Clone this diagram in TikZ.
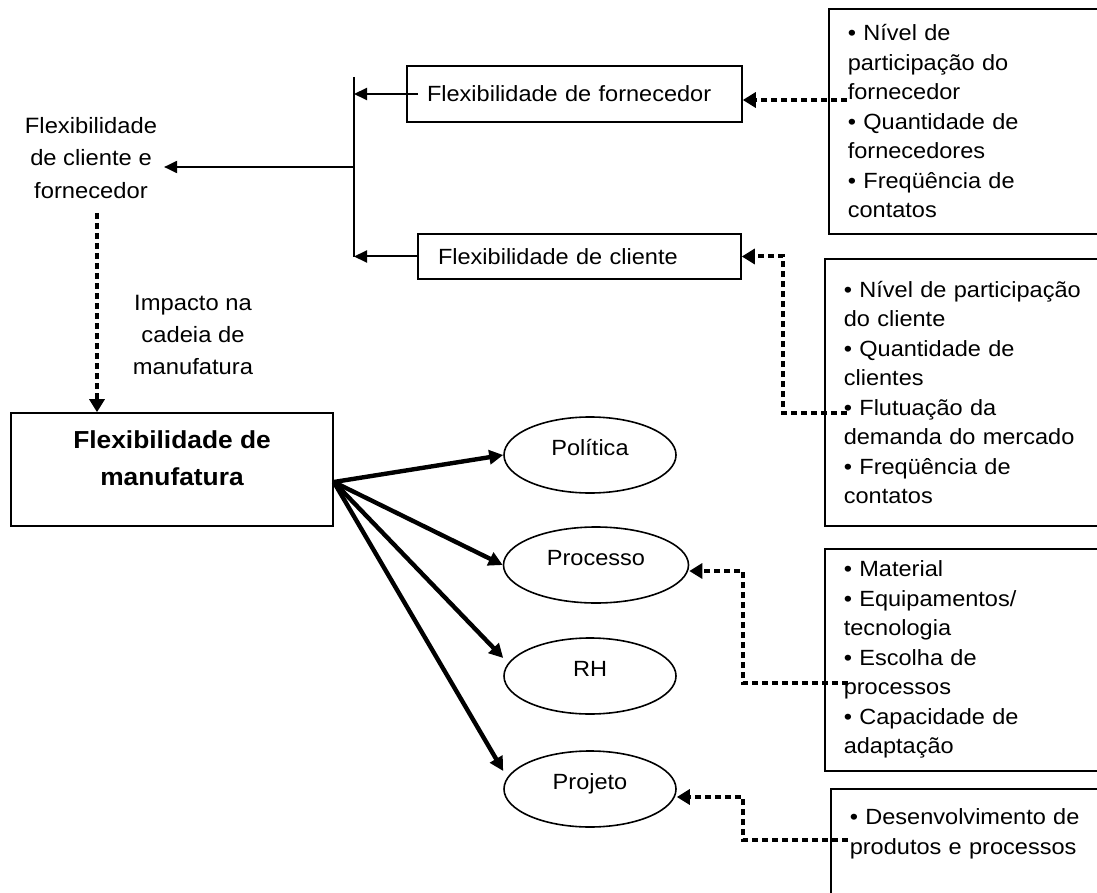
\documentclass[tikz,border=0pt]{standalone}
\usepackage{fontspec}
\setmainfont[FakeStretch=1.07]{Liberation Sans}
\usetikzlibrary{arrows.meta,shapes.geometric}

\begin{document}
\begin{tikzpicture}[
    >={Triangle[length=6.5pt,width=6pt]},
    x=0.5pt,
    y=-0.5pt,
    every node/.style={font=\fontsize{11}{14.75}\selectfont},
    flexbox/.style={draw, line width=0.8pt, align=left, inner xsep=10pt, inner ysep=0pt},
    listbox/.style={draw, line width=0.8pt, anchor=north west, align=left,
        text width=135pt, inner xsep=9.5pt, inner ysep=6pt},
    aspect/.style={draw, ellipse, line width=0.8pt, inner sep=0pt,
        minimum width=86pt, minimum height=38pt, text height=8pt, text depth=7.2pt},
    thinarrow/.style={->, line width=1pt},
    boldarrow/.style={-{Triangle[length=7pt,width=7pt]}, line width=2.2pt},
    dotarrow/.style={-{Triangle[length=6.5pt,width=7.5pt]}, line width=2pt,
        dash pattern=on 3pt off 2pt}
]

\useasboundingbox (0,0) rectangle (1097,893);
\clip (0,0) rectangle (1097,893);

% fornecedor e cliente
\node[flexbox, minimum height=28pt, text width=147.5pt] (forn) at (574.5,94) {Flexibilidade de fornecedor};
\node[flexbox, minimum height=22.5pt, text width=141.5pt] (cli) at (579.5,256.5) {Flexibilidade de cliente};

\node[align=center, font=\fontsize{11.1}{16.25}\selectfont] (clifor) at (91,158) {Flexibilidade\\de cliente e\\fornecedor};
\node[align=center, font=\fontsize{11.1}{16}\selectfont] (impact) at (193,335) {Impacto na\\cadeia de\\manufatura};

% chave
\coordinate (brkT) at (354,77);
\coordinate (brkM) at (354,167);
\coordinate (brkB) at (354,257);
\draw[line width=1pt] (brkT) -- (brkB);
\draw[thinarrow] ([xshift=6pt]forn.west) -- (forn.west -| brkT);
\draw[thinarrow] (cli.west) -- (cli.west -| brkT);
\draw[thinarrow] (brkM) -- (brkM -| clifor.east);

% manufatura
\node[draw, line width=0.8pt, minimum width=161pt, minimum height=56.5pt] (manuf) at (172,469.5) {};
\node[align=center, font=\bfseries\fontsize{12.3}{18.5}\selectfont] (manuftxt) at (172,458.5) {Flexibilidade de\\manufatura};

\coordinate (impA) at (97,213);
\draw[dotarrow] (impA) -- (impA |- manuf.north);

% aspectos
\node[aspect] (pol) at (590,455) {Política};
\node[aspect, minimum width=92.5pt] (pro) at (596,565) {Processo};
\node[aspect] (rh) at (590,676) {RH};
\node[aspect] (proj) at (590,789) {Projeto};

\coordinate (hub) at ([yshift=-6.25pt]manuf.east);
\foreach \t/\s in {pol/0pt, pro/0pt, rh/9pt, proj/9pt}
    \draw[boldarrow] (hub) -- ([yshift=\s]\t.west);

% listas
\node[listbox, minimum height=112.5pt] (lstA) at (828,8) {• Nível de\\participação do\\fornecedor\\• Quantidade de\\fornecedores\\• Freqüência de\\contatos};
\node[listbox, minimum height=133.5pt] (lstB) at (824,258) {• Nível de participação\\do cliente\\• Quantidade de\\clientes\\• Flutuação da\\demanda do mercado\\• Freqüência de\\contatos};
\node[listbox, minimum height=111pt] (lstC) at (824,548) {• Material\\• Equipamentos/\\tecnologia\\• Escolha de\\processos\\• Capacidade de\\adaptação};
\node[listbox, inner ysep=10pt, text depth=60pt] (lstD) at (830,788) {• Desenvolvimento de\\produtos e processos};

\coordinate (lsA) at (847,100);
\coordinate (lsB) at (847,413);
\coordinate (lsC) at (848,683);
\coordinate (lsD) at (848,840);

\draw[dotarrow] (lsA) -- ([yshift=-3pt]forn.east);
\draw[dotarrow] (lsB) -- ++(-64,0) |- (cli.east);
\draw[dotarrow] (lsC) -- ++(-105,0) |- ([yshift=-3pt]pro.east);
\draw[dotarrow] (lsD) -- ++(-105,0) |- ([yshift=-4pt]proj.east);

\end{tikzpicture}
\end{document}
